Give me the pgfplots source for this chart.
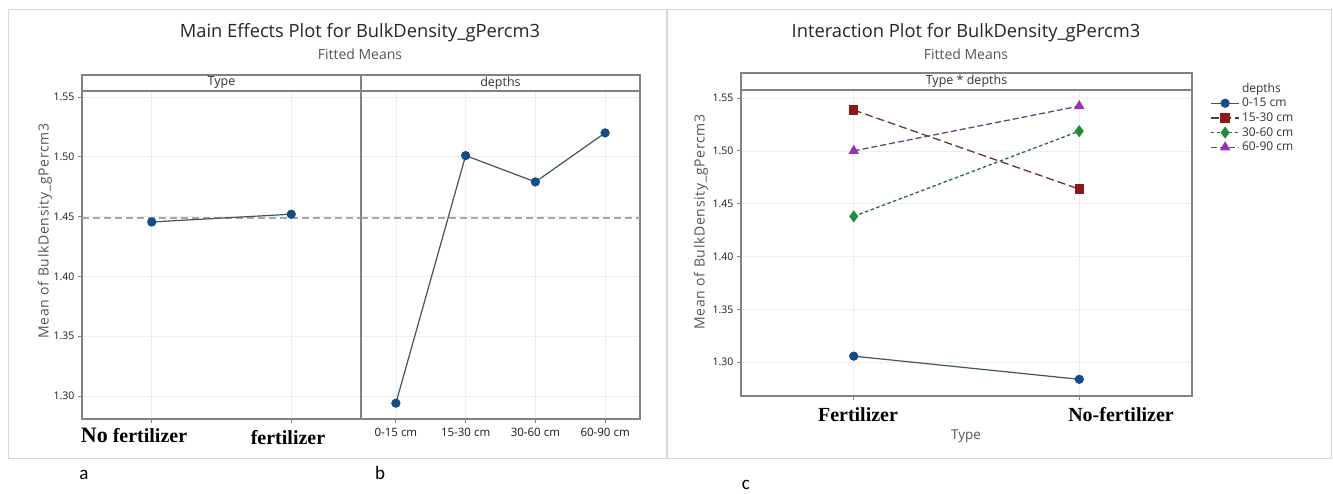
\documentclass[border=0pt]{standalone}
\usepackage{pgfplots}
\pgfplotsset{compat=1.18}
\usepackage{fontspec}
\setmainfont{Open Sans}
\newfontfamily\tnr{Liberation Serif}
\newfontfamily\carl{Carlito}
\newfontfamily\oswide[LetterSpace=5]{Open Sans}
\definecolor{mblue}{RGB}{20,76,132}
\definecolor{mline}{RGB}{62,86,98}
\definecolor{mred}{RGB}{140,24,28}
\definecolor{mredl}{RGB}{105,50,65}
\definecolor{mgreen}{RGB}{30,140,60}
\definecolor{mgreenl}{RGB}{45,105,65}
\definecolor{mpurple}{RGB}{150,50,175}
\definecolor{mpurplel}{RGB}{110,65,125}
\definecolor{framec}{RGB}{130,130,130}
\definecolor{gridc}{RGB}{238,238,238}
\definecolor{cardc}{RGB}{215,215,215}
\definecolor{labc}{RGB}{85,85,85}
\pgfplotsset{
  mstyle/.style={
    scale only axis,
    axis line style={framec, line width=1.2pt},
    ytick={1.30,1.35,1.40,1.45,1.50,1.55},
    yticklabel style={/pgf/number format/.cd, fixed, fixed zerofill, precision=2, assume math mode=true},
    tick label style={font=\fontsize{10.5}{12}\selectfont, text=black!90},
    grid=major,
    major grid style={gridc, line width=0.6pt},
    tick align=outside,
    major tick length=4pt,
    tick style={framec, line width=0.8pt},
    ytick pos=left, xtick pos=bottom,
    clip=false,
  }
}
\begin{document}
\begin{tikzpicture}
\useasboundingbox (0pt,0pt) rectangle (1333pt,493pt);
\fill[white] (0pt,0pt) rectangle (1333pt,493pt);
\draw[cardc, line width=1pt] (8pt,35pt) rectangle (666pt,483pt);
\draw[cardc, line width=1pt] (667pt,35pt) rectangle (1331pt,483pt);

% ---------- Titles ----------
\node[font=\fontsize{18.3}{21}\selectfont, text=black!85] at (360pt,460pt) {Main Effects Plot for BulkDensity\_gPercm3};
\node[font=\fontsize{14}{16}\selectfont, text=labc] at (360pt,439pt) {Fitted Means};
\node[font=\fontsize{18.3}{21}\selectfont, text=black!85] at (966pt,460pt) {Interaction Plot for BulkDensity\_gPercm3};
\node[font=\fontsize{14}{16}\selectfont, text=labc] at (966pt,439pt) {Fitted Means};

% ---------- Main effects: Type ----------
\begin{axis}[mstyle, at={(82pt,74pt)}, anchor=south west, width=279pt, height=328pt,
  xmin=0.5, xmax=2.5, ymin=1.2808, ymax=1.555,
  xtick={1,2}, xticklabels={}]
\addplot[gray!70, line width=1.3pt, dash pattern=on 7pt off 4pt] coordinates {(0.5,1.4488) (2.5,1.4488)};
\addplot[mline, line width=1.2pt, mark=*, mark size=4pt, mark options={mblue, fill=mblue, solid}] coordinates {(1,1.4455) (2,1.4520)};
\end{axis}
\node[font=\tnr\bfseries\fontsize{20}{22}\selectfont, anchor=base] at (134pt,51pt) {{\fontsize{22}{22}\selectfont No} fertilizer};
\node[font=\tnr\bfseries\fontsize{20}{22}\selectfont, anchor=base] at (288pt,49pt) {fertilizer};

% ---------- Main effects: depths ----------
\begin{axis}[mstyle, at={(361pt,74pt)}, anchor=south west, width=279pt, height=328pt,
  xmin=0.5, xmax=4.5, ymin=1.2808, ymax=1.555,
  xtick={1,2,3,4}, xticklabels={0-15 cm,15-30 cm,30-60 cm,60-90 cm},
  yticklabels={}, ytick style={draw=none},
  xticklabel style={yshift=-2pt, font=\fontsize{11.5}{13}\selectfont}]
\addplot[gray!70, line width=1.3pt, dash pattern=on 7pt off 4pt] coordinates {(0.5,1.4488) (4.5,1.4488)};
\addplot[mline, line width=1.2pt, mark=*, mark size=4pt, mark options={mblue, fill=mblue, solid}] coordinates {(1,1.294) (2,1.501) (3,1.479) (4,1.520)};
\end{axis}
% strip
\draw[framec, line width=1.2pt] (82pt,402pt) rectangle (640pt,418pt);
\draw[framec, line width=1.2pt] (361pt,402pt) -- (361pt,418pt);
\node[font=\fontsize{12.5}{14}\selectfont, text=black!80] at (221.5pt,410pt) {Type};
\node[font=\fontsize{12.5}{14}\selectfont, text=black!80] at (500.5pt,410pt) {depths};
\node[rotate=90, font=\oswide\fontsize{14}{16}\selectfont, text=labc] at (45pt,262pt) {Mean of BulkDensity\_gPercm3};

% ---------- Interaction ----------
\begin{axis}[mstyle, at={(741pt,97pt)}, anchor=south west, width=451pt, height=306pt,
  xmin=0.5, xmax=2.5, ymin=1.268, ymax=1.5576,
  xtick={1,2}, xticklabels={},
  legend style={at={(1.04,1.03)}, anchor=north west, draw=none, fill=none,
    font=\fontsize{12}{13}\selectfont, text=black!80, row sep=0.5pt, inner sep=0pt},
  legend cell align=left,
  every axis plot/.append style={legend image code/.code={\draw[mark repeat=2,mark phase=2,##1] plot coordinates {(0cm,0cm) (0.5cm,0cm) (1.0cm,0cm)};}}]
\addlegendimage{empty legend}\addlegendentry{depths}
\addplot[mline, line width=1.2pt, mark=*, mark size=4pt, mark options={mblue, fill=mblue, solid}] coordinates {(1,1.3057) (2,1.2838)};
\addlegendentry{0-15 cm}
\addplot[mredl, line width=1.3pt, dash pattern=on 8pt off 4pt, mark=square*, mark size=4pt, mark options={mred, fill=mred, solid}] coordinates {(1,1.5386) (2,1.4638)};
\addlegendentry{15-30 cm}
\addplot[mgreenl, line width=1.3pt, dash pattern=on 3.5pt off 2.5pt, mark=diamond*, mark size=5pt, mark options={mgreen, fill=mgreen, solid}] coordinates {(1,1.4380) (2,1.5187)};
\addlegendentry{30-60 cm}
\addplot[mpurplel, line width=1.3pt, dash pattern=on 6pt off 3pt, mark=triangle*, mark size=4.8pt, mark options={mpurple, fill=mpurple, solid}] coordinates {(1,1.5000) (2,1.5424)};
\addlegendentry{60-90 cm}
\end{axis}
\draw[framec, line width=1.2pt] (741pt,403pt) rectangle (1192pt,420pt);
\node[font=\fontsize{12.5}{14}\selectfont, text=black!80] at (966.5pt,411.5pt) {Type * depths};
\node[font=\tnr\bfseries\fontsize{20}{22}\selectfont, anchor=base] at (858pt,72pt) {Fertilizer};
\node[font=\tnr\bfseries\fontsize{20}{22}\selectfont, anchor=base] at (1121pt,72pt) {No-fertilizer};
\node[font=\fontsize{13.5}{15}\selectfont, text=labc] at (966pt,57pt) {Type};
\node[rotate=90, font=\oswide\fontsize{14}{16}\selectfont, text=labc] at (701pt,271pt) {Mean of BulkDensity\_gPercm3};

% panel letters
\node[font=\carl\fontsize{19}{22}\selectfont, anchor=base] at (84pt,14pt) {a};
\node[font=\carl\fontsize{19}{22}\selectfont, anchor=base] at (380pt,14pt) {b};
\node[font=\carl\fontsize{19}{22}\selectfont, anchor=base] at (746pt,4pt) {c};
\end{tikzpicture}
\end{document}
